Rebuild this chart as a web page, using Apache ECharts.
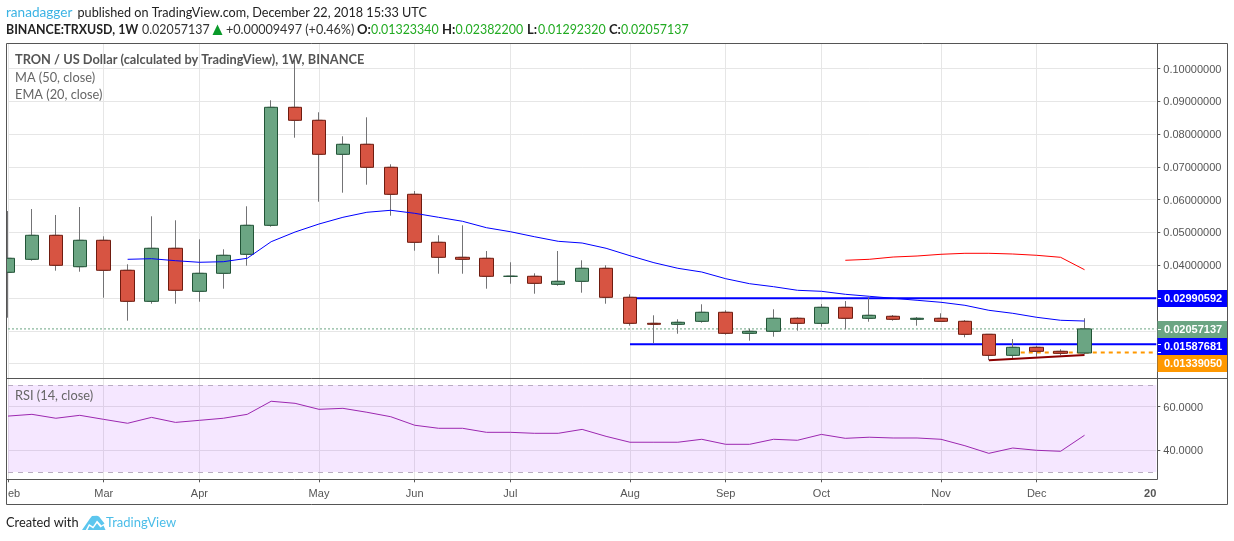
<!DOCTYPE html>
<html>
<head>
<meta charset="utf-8">
<style>html,body{margin:0;padding:0;background:#fff}#chart{width:1234px;height:541px}</style>
<script src="https://cdn.jsdelivr.net/npm/echarts@6/dist/echarts.min.js"></script>
</head>
<body>
<div id="chart"></div>
<script>
// Weekly bars (Monday of each week); last three entries are empty future slots on the time scale.
const weeks = ['2018-02-05','2018-02-12','2018-02-19','2018-02-26','2018-03-05','2018-03-12','2018-03-19','2018-03-26','2018-04-02','2018-04-09','2018-04-16','2018-04-23','2018-04-30','2018-05-07','2018-05-14','2018-05-21','2018-05-28','2018-06-04','2018-06-11','2018-06-18','2018-06-25','2018-07-02','2018-07-09','2018-07-16','2018-07-23','2018-07-30','2018-08-06','2018-08-13','2018-08-20','2018-08-27','2018-09-03','2018-09-10','2018-09-17','2018-09-24','2018-10-01','2018-10-08','2018-10-15','2018-10-22','2018-10-29','2018-11-05','2018-11-12','2018-11-19','2018-11-26','2018-12-03','2018-12-10','2018-12-17','2018-12-24','2018-12-31','2019-01-07'];
const timeTicks = {'2018-02-05':'eb','2018-03-05':'Mar','2018-04-02':'Apr','2018-05-07':'May','2018-06-04':'Jun','2018-07-02':'Jul','2018-08-06':'Aug','2018-09-03':'Sep','2018-10-01':'Oct','2018-11-05':'Nov','2018-12-03':'Dec','2019-01-07':'20'};

const open  = [.03784,.04180,.04912,.03955,.04760,.03845,.02899,.04516,.03204,.03753,.04333,.05217,.08816,.08420,.07383,.07688,.06986,.06163,.04699,.04241,.04211,.03662,.03662,.03418,.03509,.03906,.03021,.02228,.02198,.02289,.02564,.01923,.01984,.02381,.02228,.02716,.02381,.02442,.02350,.02381,.02289,.01893,.01252,.01496,.01374,.01323340];
const close = [.04211,.04912,.03997,.04760,.03845,.02899,.04516,.03235,.03753,.04302,.05217,.08816,.08420,.07383,.07688,.06986,.06163,.04699,.04241,.04180,.03662,.03662,.03448,.03509,.03906,.03021,.02228,.02198,.02259,.02564,.01923,.01984,.02381,.02228,.02716,.02381,.02472,.02350,.02381,.02289,.01893,.01252,.01496,.01374,.01313,.02057137];
const low   = [.02399,.04138,.03833,.03802,.03009,.02308,.02826,.02826,.02887,.03284,.03985,.05175,.07889,.05937,.06212,.06456,.05510,.04443,.03741,.03741,.03284,.03436,.03131,.03375,.03162,.02826,.02155,.01618,.01911,.02247,.01881,.01698,.01820,.02003,.02125,.02045,.02277,.02308,.02155,.02289,.01801,.01109,.01130,.01210,.01252,.01292320];
const high  = [.05653,.05714,.05531,.05775,.04882,.04028,.05492,.05370,.04790,.04485,.05797,.09030,.10259,.08664,.07932,.08511,.07078,.06263,.04912,.05217,.04433,.04089,.03753,.04433,.04150,.03997,.03113,.02472,.02350,.02808,.02625,.02064,.02655,.02411,.02817,.02908,.03030,.02481,.02420,.02533,.02329,.01893,.01749,.01545,.01435,.02382200];
const ema20 = [null,null,null,null,null,.04180,.04199,.04138,.04089,.04107,.04211,.04717,.05013,.05257,.05461,.05614,.05675,.05583,.05461,.05339,.05144,.05022,.04870,.04729,.04677,.04516,.04290,.04077,.03906,.03793,.03589,.03436,.03345,.03235,.03204,.03113,.03052,.02991,.02930,.02869,.02777,.02625,.02533,.02411,.02320,.02298];
const ma50  = [null,null,null,null,null,null,null,null,null,null,null,null,null,null,null,null,null,null,null,null,null,null,null,null,null,null,null,null,null,null,null,null,null,null,null,.04150,.04180,.04250,.04281,.04333,.04363,.04363,.04342,.04302,.04241,.03863];
const rsi14 = [55.7,56.5,54.7,56.05,54.2,52.4,55.1,52.8,53.75,54.7,56.5,62.5,61.55,58.8,59.25,57.45,55.4,51.5,50.1,50.1,48.25,48.25,47.8,47.8,49.6,46.4,43.7,43.7,43.7,45.05,42.75,42.75,45.05,44.6,47.3,45.5,46,45.65,45.65,45.05,42.1,38.6,41.05,40,39.55,46.9];

const lastPrice = 0.02057137, resistance = 0.02990592, support = 0.01587681, orangeLevel = 0.01339050;
const trendLine = [[41, 0.01100], [45, 0.01262]];
const priceTicks = [.01,.02,.03,.04,.05,.06,.07,.08,.09,.10];
const priceLabels = [.04,.05,.06,.07,.08,.09,.10];
const rsiTicks = [40,60];

const bars = open.map((o,i)=>[o,close[i],low[i],high[i]]);
const bodies = open.map((o,i)=>[o,close[i],Math.min(o,close[i]),Math.max(o,close[i])]);
function level(from,to,v){return weeks.map((_,i)=>i>=from&&i<=to?v:null);}
function trend(){const a=weeks.map(()=>null);trendLine.forEach(p=>a[p[0]]=p[1]);return a;}

const isTick = (i,name)=>name in timeTicks && name!=='2019-01-07';
const isLabel = (i,name)=>name in timeTicks;
const grey='#555555', gridC='#e6e6e6';
const catData = weeks.map(w=>{
  if(w==='2018-02-05') return {value:w,textStyle:{align:'left'}};
  if(w==='2019-01-07') return {value:w,textStyle:{align:'right',fontWeight:'bold'}};
  return w;
});
function xAxis(idx,showLabels){return {
  type:'category',gridIndex:idx,data:catData,boundaryGap:false,
  axisLine:{show:false},
  axisTick:{show:showLabels,interval:isTick,length:3,lineStyle:{color:grey}},
  axisLabel:{show:showLabels,interval:isLabel,margin:9,fontFamily:'Liberation Sans',fontSize:11,color:grey,formatter:v=>timeTicks[v]||''},
  splitLine:{show:true,interval:isTick,lineStyle:{color:gridC,width:1}}
};}
const yRich={a:{fontFamily:'Liberation Sans',fontSize:11,color:grey,padding:[2,0,0,0]}};
const common={silent:true,animation:false,showSymbol:false,symbol:'none',xAxisIndex:0,yAxisIndex:0,type:'line'};
const tags=[
 {t:'0.02990592',y:290,h:17,c:'#0000ff',tick:298.5},
 {t:'0.02057137',y:321,h:17,c:'#6ba583',tick:329.5},
 {t:'0.01587681',y:338,h:17,c:'#0000ff',tick:344.5},
 {t:'0.01339050',y:355,h:17,c:'#ff9800',tick:352.5}
];
const F='Lato';
function txt(text,x,y,fill,font){return {type:'text',z:50,silent:true,style:{text,x,y,fill,font,verticalAlign:'middle',align:'left'}};}
const num='12.4px '+F, lab='bold 13px '+F, grn='#22ab22';
const logo='#5cc6ee';
const graphic=[
 txt('ranadagger',6,13,'#3bb3e4','13.6px '+F),
 txt('published on TradingView.com, December 22, 2018 15:33 UTC',77.5,13,'#222','12.65px '+F),
 txt('BINANCE:TRXUSD, 1W',6,30,'#222','bold 12.4px '+F),
 txt('0.02057137',142,30,'#333',num),
 {type:'polygon',z:50,silent:true,shape:{points:[[217.5,24.5],[212.5,35],[222.5,35]]},style:{fill:'#0a9a2a'}},
 txt('+0.00009497 (+0.46%)',226,30,'#333','12.6px '+F),
 txt('O:',357,30,'#222',lab), txt('0.01323340',371,30,grn,num),
 txt('H:',442,30,'#222',lab), txt('0.02382200',455.5,30,grn,num),
 txt('L:',527,30,'#222',lab), txt('0.01292320',538,30,grn,num),
 txt('C:',609,30,'#222',lab), txt('0.02057137',621,30,grn,num),
 txt('TRON / US Dollar (calculated by TradingView), 1W, BINANCE',15,60,'#555','bold 12.8px '+F),
 txt('MA (50, close)',15,77.5,'#666','12.8px '+F),
 txt('EMA (20, close)',15,94.5,'#666','12.8px '+F),
 txt('RSI (14, close)',15,395.5,'#666','12.8px '+F),
 txt('Created with',6,523,'#222','12.8px '+F),
 txt('TradingView',106,523,'#4bbde8','13px '+F),
 {type:'polygon',z:50,silent:true,shape:{points:[[82,530],[90,518.5],[92,516],[97,515.7],[99,516.5],[104.5,523.5],[101.5,525.5],[97,520.5],[93,526.5],[89,524],[85.8,530]]},style:{fill:logo}},
 {type:'polygon',z:50,silent:true,shape:{points:[[87.5,530],[89.5,526],[93.2,528.6],[97,523.2],[100.5,527.5],[103.5,525.5],[105.5,530]]},style:{fill:logo}},
 {type:'rect',z:47,silent:true,shape:{x:0,y:44,width:6.5,height:335},style:{fill:'#fff'}},
 {type:'rect',z:48,silent:true,shape:{x:6.5,y:43.5,width:1221,height:461},style:{fill:'none',stroke:grey,lineWidth:1}},
 {type:'line',z:48,silent:true,shape:{x1:6.5,y1:378.5,x2:1227.5,y2:378.5},style:{stroke:grey,lineWidth:1}},
 {type:'line',z:48,silent:true,shape:{x1:6.5,y1:479.5,x2:1157.5,y2:479.5},style:{stroke:grey,lineWidth:1}},
 {type:'line',z:48,silent:true,shape:{x1:1157.5,y1:43.5,x2:1157.5,y2:479.5},style:{stroke:grey,lineWidth:1}}
];
tags.forEach(g=>{
 graphic.push({type:'rect',z:49,silent:true,shape:{x:1157.5,y:g.y,width:69.5,height:g.h},style:{fill:g.c}});
 graphic.push({type:'line',z:50,silent:true,shape:{x1:1158,y1:g.tick,x2:1161,y2:g.tick},style:{stroke:'#fff',lineWidth:1}});
 graphic.push({type:'text',z:50,silent:true,style:{text:g.t,x:1164,y:g.y+g.h/2,fill:'#fff',font:'bold 11px Liberation Sans',verticalAlign:'middle',align:'left'}});
});

const chart=echarts.init(document.getElementById('chart'),null,{renderer:'canvas'});
chart.setOption({
 backgroundColor:'#fff',animation:false,
 grid:[{left:8,top:44,width:1148.3,height:334,containLabel:false},{left:8,top:378.3,width:1148.3,height:101,containLabel:false}],
 xAxis:[xAxis(0,false),xAxis(1,true)],
 yAxis:[
  {type:'value',gridIndex:0,position:'right',offset:1,min:0.0056,max:0.10747,
   axisLine:{show:false},
   axisTick:{show:true,length:3,customValues:priceTicks,lineStyle:{color:grey}},
   axisLabel:{show:true,margin:6,customValues:priceLabels,rich:yRich,formatter:v=>'{a|'+v.toFixed(8)+'}'},
   splitLine:{show:true,lineStyle:{color:gridC,width:1}}},
  {type:'value',gridIndex:1,position:'right',offset:1,min:26.7,max:73.03,
   axisLine:{show:false},
   axisTick:{show:true,length:3,customValues:rsiTicks,lineStyle:{color:grey}},
   axisLabel:{show:true,margin:6,customValues:rsiTicks,rich:yRich,formatter:v=>'{a|'+v.toFixed(4)+'}'},
   splitLine:{show:true,lineStyle:{color:gridC,width:1}}}
 ],
 graphic:{elements:graphic},
 series:[
  Object.assign({},common,{name:'last',z:1,data:level(0,48,lastPrice),lineStyle:{color:'#6ba583',width:1,type:[2,2]}}),
  Object.assign({},common,{name:'resistance',z:1,data:level(26,48,resistance),lineStyle:{color:'#0000ff',width:2}}),
  Object.assign({},common,{name:'support',z:1,data:level(26,48,support),lineStyle:{color:'#0000ff',width:2}}),
  Object.assign({},common,{name:'orange',z:1,data:level(42,48,orangeLevel),lineStyle:{color:'#ff9800',width:2,type:[4,4]}}),
  {type:'candlestick',name:'wicks',z:2,silent:true,animation:false,xAxisIndex:0,yAxisIndex:0,barWidth:8,clip:true,data:bars,
   itemStyle:{color:'#737375',color0:'#737375',borderColor:'#737375',borderColor0:'#737375',borderColorDoji:'#737375',borderWidth:1}},
  {type:'candlestick',name:'TRXUSD',z:3,silent:true,animation:false,xAxisIndex:0,yAxisIndex:0,barWidth:14,clip:true,data:bodies,
   itemStyle:{color:'#6ba583',color0:'#d75442',borderColor:'#225437',borderColor0:'#6f1c10',borderColorDoji:'#225437',borderWidth:1}},
  Object.assign({},common,{name:'EMA 20',z:4,data:ema20,lineStyle:{color:'#0000ff',width:1}}),
  Object.assign({},common,{name:'MA 50',z:4,data:ma50,lineStyle:{color:'#ff0000',width:1}}),
  Object.assign({},common,{name:'trend',z:4,data:trend(),connectNulls:true,lineStyle:{color:'#8b0000',width:2}}),
  Object.assign({},common,{name:'RSI 14',z:4,xAxisIndex:1,yAxisIndex:1,data:rsi14,lineStyle:{color:'#9c27b0',width:1},
   markArea:{silent:true,z:1,itemStyle:{color:'rgba(153,21,255,0.1)'},data:[[{yAxis:70},{yAxis:30}]]},
   markLine:{silent:true,z:2,symbol:'none',label:{show:false},lineStyle:{color:'#b9adc2',type:[5,5],width:1},data:[{yAxis:70},{yAxis:30}]}})
 ]
});
</script>
</body>
</html>
